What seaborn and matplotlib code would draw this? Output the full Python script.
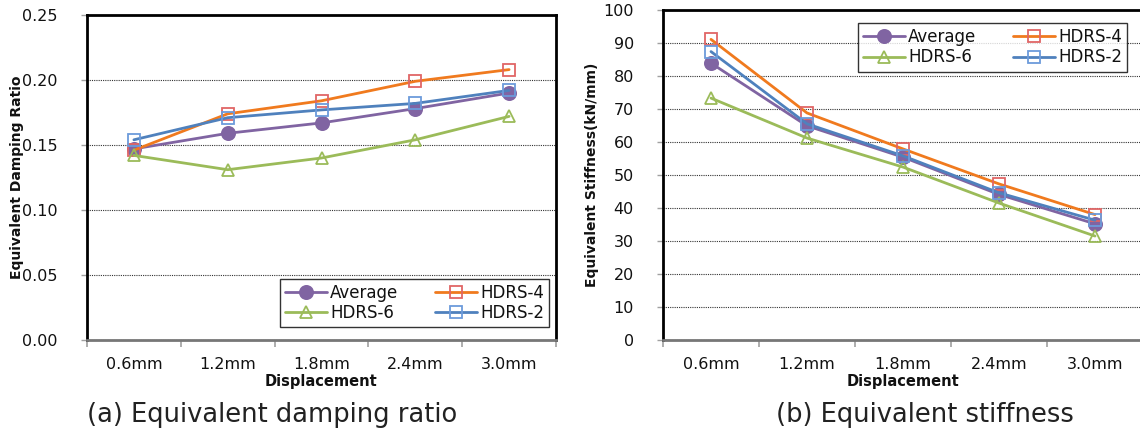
import matplotlib
matplotlib.use("Agg")
import matplotlib.pyplot as plt
import seaborn as sns
import pandas as pd
import numpy as np

# ---- data ----
categories = ["0.6mm", "1.2mm", "1.8mm", "2.4mm", "3.0mm"]
series_names = ["Average", "HDRS-4", "HDRS-6", "HDRS-2"]

damping_average = [0.147, 0.159, 0.167, 0.178, 0.190]
damping_hdrs4 = [0.146, 0.174, 0.184, 0.199, 0.208]
damping_hdrs6 = [0.142, 0.131, 0.140, 0.154, 0.172]
damping_hdrs2 = [0.154, 0.171, 0.177, 0.182, 0.192]

stiff_average = [83.9, 64.9, 55.4, 44.1, 35.2]
stiff_hdrs4 = [91.1, 68.8, 57.9, 47.3, 38.0]
stiff_hdrs6 = [73.3, 61.2, 52.4, 41.5, 31.5]
stiff_hdrs2 = [87.4, 65.5, 55.8, 44.6, 36.3]

damping_ticks = [0.00, 0.05, 0.10, 0.15, 0.20, 0.25]
stiff_ticks = list(range(0, 101, 10))

sns.set_theme(style="white")
plt.rcParams["font.family"] = ["DejaVu Sans"]

styles = {
    "Average": dict(color="#8064A2", marker="o", markersize=9.5, mfc="#8064A2", mec="#8064A2"),
    "HDRS-4": dict(color="#F07A1E", marker="s", markersize=8.5, mfc="none", mec="#E06666"),
    "HDRS-6": dict(color="#9BBB59", marker="^", markersize=8.5, mfc="none", mec="#9BBB59"),
    "HDRS-2": dict(color="#4F81BD", marker="s", markersize=8.5, mfc="none", mec="#6C9BDB"),
}

W, H = 1140, 434
fig = plt.figure(figsize=(W / 100, H / 100), dpi=100)
ax1 = fig.add_axes([87 / W, (H - 340) / H, 469 / W, 325 / H])
ax2 = fig.add_axes([663 / W, (H - 340) / H, 480 / W, 330 / H])


def draw(ax, data, ticks, ylim, fmt, ylabel, leg_loc, leg_anchor):
    df = pd.DataFrame({"Displacement": categories * len(series_names),
                       "value": sum([list(data[n]) for n in series_names], []),
                       "series": sum([[n] * len(categories) for n in series_names], [])})
    for n in series_names:
        st = styles[n]
        sub = df[df["series"] == n]
        sns.lineplot(data=sub, x="Displacement", y="value", ax=ax, sort=False,
                     color=st["color"], linewidth=2.0, marker=st["marker"],
                     markersize=st["markersize"], markerfacecolor=st["mfc"],
                     markeredgecolor=st["mec"], markeredgewidth=1.3, label=n,
                     legend=False)
    ax.set_xlim(-0.5, len(categories) - 0.5)
    ax.set_ylim(*ylim)
    ax.set_yticks(ticks)
    ax.set_yticklabels([fmt.format(t) for t in ticks])
    # category boundaries as major ticks, labels at centers as minor ticks
    ax.set_xticks(np.arange(-0.5, len(categories), 1.0))
    ax.set_xticklabels([])
    ax.set_xticks(np.arange(len(categories)), minor=True)
    ax.set_xticklabels(categories, minor=True)
    ax.tick_params(axis="x", which="major", direction="out", length=5, width=1.2,
                   color="#a0a0a0", bottom=True)
    ax.tick_params(axis="x", which="minor", length=0, pad=12, labelsize=11.5,
                   labelcolor="#111111")
    ax.tick_params(axis="y", direction="out", length=4, width=1.0, color="#a0a0a0",
                   left=True, pad=17, labelsize=11.5, labelcolor="#111111")
    ax.yaxis.grid(True, linestyle=(0, (1, 1)), color="#333333", linewidth=0.8)
    ax.xaxis.grid(False)
    ax.set_axisbelow(True)
    for s in ["left", "top", "right"]:
        ax.spines[s].set_color("black")
        ax.spines[s].set_linewidth(2.0)
    ax.spines["bottom"].set_color("#777777")
    ax.spines["bottom"].set_linewidth(2.0)
    ax.set_xlabel("Displacement", fontsize=10.5, fontweight="bold", color="#111111")
    ax.set_ylabel(ylabel, fontsize=10, fontweight="bold", color="#111111")
    handles, labels = ax.get_legend_handles_labels()
    order = ["Average", "HDRS-6", "HDRS-4", "HDRS-2"]
    hmap = dict(zip(labels, handles))
    leg = ax.legend([hmap[o] for o in order], order, ncol=2, loc=leg_loc,
                    bbox_to_anchor=leg_anchor, borderaxespad=0, frameon=True,
                    fancybox=False, fontsize=12, handlelength=2.5,
                    handletextpad=0.2, columnspacing=2.2, labelspacing=0.15,
                    borderpad=0.3)
    leg.get_frame().set_edgecolor("black")
    leg.get_frame().set_linewidth(1.0)
    for t in leg.get_texts():
        t.set_color("#111111")


draw(ax1,
     {"Average": damping_average, "HDRS-4": damping_hdrs4,
      "HDRS-6": damping_hdrs6, "HDRS-2": damping_hdrs2},
     damping_ticks, (0, 0.25), "{:.2f}", "Equivalent Damping Ratio",
     "lower right", ((549 - 87) / 469, (340 - 327) / 325))
draw(ax2,
     {"Average": stiff_average, "HDRS-4": stiff_hdrs4,
      "HDRS-6": stiff_hdrs6, "HDRS-2": stiff_hdrs2},
     stiff_ticks, (0, 100), "{:d}", "Equivalent Stiffness(kN/mm)",
     "upper right", ((1127 - 663) / 480, (340 - 23) / 330))

ax1.xaxis.set_label_coords(0.5, (340 - 374) / 325)
ax2.xaxis.set_label_coords(0.5, (340 - 374) / 330)
ax1.yaxis.set_label_coords((24 - 87) / 469, 0.5)
ax2.yaxis.set_label_coords((599 - 663) / 480, 0.5)

fig.text(272 / W, 1 - 415 / H, "(a) Equivalent damping ratio", ha="center",
         va="center", fontsize=18.5, color="#222222")
fig.text(925 / W, 1 - 415 / H, "(b) Equivalent stiffness", ha="center",
         va="center", fontsize=18.5, color="#222222")

fig.savefig("out.png", dpi=100)
